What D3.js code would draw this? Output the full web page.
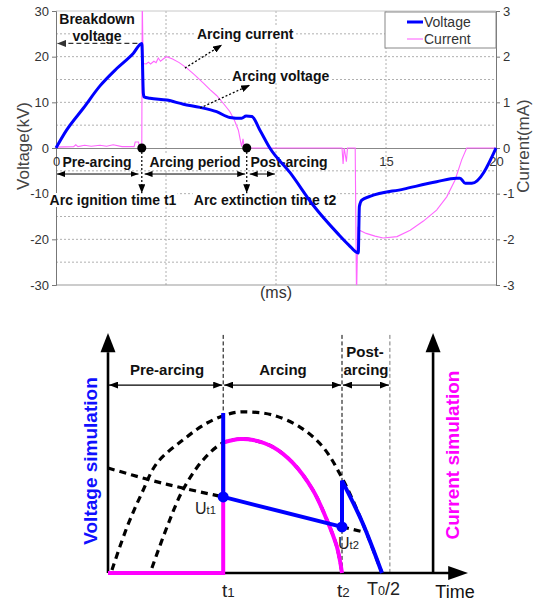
<!DOCTYPE html>
<html>
<head>
<meta charset="utf-8">
<script src="https://cdn.jsdelivr.net/npm/d3@7"></script>
<style>
body{margin:0;background:#fff;}
svg{display:block;font-family:"Liberation Sans",Arial,sans-serif;}
</style>
</head>
<body>
<svg id="fig" width="539" height="606"></svg>
<script>
// ---------- top panel : measured waveform (ms, kV, mA) ----------
const vTime = [0,0.48,1.24,2.0,2.76,3.51,3.9,3.97,4.0,4.27,5.03,5.79,6.55,7.3,7.9,8.44,8.64,8.9,9.27,9.72,10.64,11.7,12.8,13.3,13.74,13.79,13.9,14.27,15.8,17.3,18.2,18.36,18.6,18.9,20];
const vKV   = [0,3.9,8.7,13.6,17.4,20.7,22.9,12,11.2,10.9,10.5,9.6,8.9,7.95,6.7,6.5,7.0,6.9,3.9,0,-5.4,-12.6,-18.7,-21.2,-23,-12.8,-11.4,-10.6,-9.0,-7.4,-6.6,-6.6,-7.7,-7.7,0];

const iTime = [0,0.8,0.9,1.0,1.3,1.6,2.0,2.3,2.6,3.0,3.55,3.6,3.75,3.8,3.9,3.92,3.96,4.1,4.2,4.3,4.45,4.55,4.65,4.75,4.9,5.03,5.3,5.6,5.95,6.3,6.7,7.0,7.3,7.6,7.9,8.1,8.29,8.4,8.44,8.5,8.55,8.7,13.0,13.05,13.1,13.2,13.25,13.6,13.66,13.72,13.8,14.1,14.5,14.87,15.5,16.1,16.7,17.3,17.76,18.14,18.44,18.67,20];
const iMA   = [0.02,0.03,0.07,0.03,0.06,0.04,0.06,0.04,0.07,0.03,0.03,0.13,0.13,0.03,0.03,3.3,1.85,1.84,1.88,1.84,1.9,1.87,1.97,1.9,1.96,2.0,1.95,1.87,1.75,1.6,1.42,1.28,1.15,0.98,0.8,0.62,0.39,0.12,0.03,0.2,0.03,0,0,-0.35,0,-0.3,0,0,-3.3,-1.75,-1.8,-1.87,-1.93,-1.97,-1.94,-1.8,-1.6,-1.36,-1.07,-0.7,-0.26,0,0];

const kvTicks = [-30,-20,-10,0,10,20,30];
const maTicks = [-3,-2,-1,0,1,2,3];
const msTicks = [0,15,20];   // 5 and 10 sit under the annotation boxes
const arcStart = 3.9, arcEnd = 8.67;

// ---------- bottom panel : simulation sketch (arbitrary units) ----------
const bigArchU   = [1.1,5.3,9.4,13.6,20.8,27.5,34.7,39.4,45.8,53.3,59.7,65.3,70.6,76.1];
const bigArchV   = [1.25,19.2,33.3,45.8,55.4,62.5,66.7,67.1,65.8,60.8,52.5,38.75,21.25,0];
const innerArchU = [12.2,16.4,20.8,26.4,31.9,36.7,40.3,45.8,51.4,56.9,60.8,63.6,65];
const innerArchV = [2.1,19.2,34.6,47.1,54.2,55.8,55.4,52.5,45.8,34.6,22.1,10.8,0];
const arcLineU   = [0,11.7,20.8,32];
const arcLineV   = [43.75,38.75,35.4,31.7];
const tailLineU  = [65,72.2];
const tailLineV  = [19.2,16.7];
const simCurU    = [0,32,32,36.7,40.3,45.8,51.4,56.9,60.8,63.6,65];
const simCurV    = [0,0,54.4,55.8,55.4,52.5,45.8,34.6,22.1,10.8,0];
const simVoltU   = [32,32,65,65];
const simVoltV   = [66.7,31.7,19.2,38.5];
const simVoltTailU = [65,70.6,76.1];
const simVoltTailV = [38.5,21.25,0];
const t1 = 32, t2 = 65, tHalf = 78.3, rightAxisU = 90.3;

const zip = (a,b) => a.map((d,i)=>[d,b[i]]);
const svg = d3.select("#fig");

// arrowhead markers
const defs = svg.append("defs");
const mk = (id, w, h, fill) => defs.append("marker").attr("id",id)
  .attr("viewBox",`0 0 ${w} ${h}`).attr("refX",w).attr("refY",h/2)
  .attr("markerWidth",w).attr("markerHeight",h).attr("markerUnits","userSpaceOnUse")
  .attr("orient","auto-start-reverse")
  .append("path").attr("d",`M0,0L${w},${h/2}L0,${h}Z`).attr("fill",fill);
mk("ah",9,7,"#000"); mk("ahs",8,6,"#000"); mk("ahg",9,7,"#333");

const whiteText = (g, x, y, txt, opt={}) => {
  const t = g.append("text").attr("x",x).attr("y",y).text(txt)
    .attr("font-size",opt.size||14).attr("font-weight",opt.weight||"bold")
    .attr("text-anchor",opt.anchor||"middle").attr("fill",opt.fill||"#111");
  const b = t.node().getBBox();
  g.insert("rect", () => t.node()).attr("x",b.x-1).attr("y",b.y+1)
    .attr("width",b.width+2).attr("height",b.height-2).attr("fill","#fff");
  return t;
};

// ================= TOP PANEL =================
const x = d3.scaleLinear().domain([0,20]).range([56,496]);
const yV = d3.scaleLinear().domain([-30,30]).range([285,11]);
const yI = d3.scaleLinear().domain([-3,3]).range([285,11]);
const topG = svg.append("g");

// grid
const grid = topG.append("g").attr("stroke","#b0b0b0").attr("stroke-dasharray","2,2").attr("stroke-width",1);
d3.range(-25,30,5).filter(d=>d!==0).forEach(k=>{
  grid.append("line").attr("x1",x(0)).attr("x2",x(20)).attr("y1",yV(k)).attr("y2",yV(k));
});
[5,10,15].forEach(t=>{
  grid.append("line").attr("x1",x(t)).attr("x2",x(t)).attr("y1",yV(30)).attr("y2",yV(-30));
});
topG.append("line").attr("x1",x(0)).attr("x2",x(20)).attr("y1",yV(30)).attr("y2",yV(30)).attr("stroke","#c8c8c8");
topG.append("line").attr("x1",x(0)).attr("x2",x(20)).attr("y1",yV(-30)).attr("y2",yV(-30)).attr("stroke","#999");

// axes
const axL = topG.append("g").attr("transform",`translate(${x(0)},0)`)
  .call(d3.axisLeft(yV).tickValues(kvTicks).tickSize(4).tickPadding(3).tickFormat(d3.format("d")));
const axR = topG.append("g").attr("transform",`translate(${x(20)},0)`)
  .call(d3.axisRight(yI).tickValues(maTicks).tickSize(4).tickPadding(3).tickFormat(d3.format("d")));
const axB = topG.append("g").attr("transform",`translate(0,${yV(0)})`)
  .call(d3.axisBottom(x).tickValues(msTicks).tickSize(0).tickPadding(9).tickFormat(d3.format("d")));
[axL,axR,axB].forEach(a=>{
  a.selectAll("path,line").attr("stroke","#777");
  a.selectAll("text").attr("font-size",13).attr("fill","#333").attr("font-family","Liberation Sans, Arial, sans-serif");
});
axB.select(".domain").attr("stroke","#888");
// d3's minus sign -> plain hyphen like the original
topG.selectAll(".tick text").text(function(){ return this.textContent.replace("\u2212","-"); });

topG.append("text").attr("transform","translate(23,146) rotate(-90)").attr("text-anchor","middle")
  .attr("dominant-baseline","central").attr("font-size",17).attr("fill","#444").text("Voltage(kV)");
topG.append("text").attr("transform","translate(523,146) rotate(-90)").attr("text-anchor","middle")
  .attr("dominant-baseline","central").attr("font-size",17).attr("fill","#444").text("Current(mA)");
topG.append("text").attr("x",276).attr("y",298).attr("text-anchor","middle").attr("font-size",16).attr("fill","#333").text("(ms)");

// annotation labels (white boxes)
const ann = topG.append("g");
whiteText(ann,97,24,"Breakdown");
whiteText(ann,97,41,"voltage");
whiteText(ann,197,39,"Arcing current",{anchor:"start"});
whiteText(ann,232,81,"Arcing voltage",{anchor:"start"});
whiteText(ann,97,167,"Pre-arcing");
whiteText(ann,195,167,"Arcing period");
whiteText(ann,289,167,"Post-arcing");
whiteText(ann,113,205,"Arc ignition time t1");
whiteText(ann,265,205,"Arc extinction time t2");

// series
topG.append("defs").append("clipPath").attr("id","plotClip").append("rect")
  .attr("x",x(0)).attr("y",yV(30)).attr("width",x(20)-x(0)).attr("height",yV(-30)-yV(30));
topG.append("path").datum(zip(iTime,iMA)).attr("clip-path","url(#plotClip)")
  .attr("fill","none").attr("stroke","#ff66ff").attr("stroke-width",1.1)
  .attr("d",d3.line().x(d=>x(d[0])).y(d=>yI(d[1])));
topG.append("path").datum(zip(vTime,vKV))
  .attr("fill","none").attr("stroke","#0000ff").attr("stroke-width",3).attr("stroke-linejoin","round")
  .attr("d",d3.line().x(d=>x(d[0])).y(d=>yV(d[1])).curve(d3.curveMonotoneX));

// annotation arrows
const arr = topG.append("g");
arr.append("line").attr("x1",x(3.7)).attr("y1",yV(22.9)).attr("x2",x(0.05)).attr("y2",yV(22.9))
  .attr("stroke","#333").attr("stroke-dasharray","5,3").attr("stroke-width",1.2).attr("marker-end","url(#ahg)");
arr.append("line").attr("x1",x(5.86)).attr("y1",yV(17.5)).attr("x2",x(7.55)).attr("y2",yV(22.6))
  .attr("stroke","#000").attr("stroke-dasharray","2,2").attr("stroke-width",1.3).attr("marker-end","url(#ah)");
arr.append("line").attr("x1",x(6.55)).attr("y1",yV(8.76)).attr("x2",x(8.82)).attr("y2",yV(13.8))
  .attr("stroke","#000").attr("stroke-dasharray","2,2").attr("stroke-width",1.3).attr("marker-end","url(#ah)");

const rowY = yV(-5.7);
[[0,3.75],[3.98,8.6],[8.76,9.95]].forEach(s=>{
  arr.append("line").attr("x1",x(s[0])+1).attr("x2",x(s[1])).attr("y1",rowY).attr("y2",rowY)
    .attr("stroke","#000").attr("stroke-width",1)
    .attr("marker-start","url(#ahs)").attr("marker-end","url(#ahs)");
});
[arcStart,arcEnd].forEach(t=>{
  arr.append("line").attr("x1",x(t)).attr("x2",x(t)).attr("y1",yV(0)).attr("y2",yV(-9.9))
    .attr("stroke","#000").attr("stroke-dasharray","2,2").attr("stroke-width",1.2).attr("marker-end","url(#ah)");
  arr.append("circle").attr("cx",x(t)).attr("cy",yV(0)).attr("r",4.5).attr("fill","#000");
});

// legend
const lg = topG.append("g");
lg.append("rect").attr("x",385).attr("y",12).attr("width",111).attr("height",36).attr("fill","#fff").attr("stroke","#888");
lg.append("line").attr("x1",407).attr("x2",423).attr("y1",22).attr("y2",22).attr("stroke","#0000ff").attr("stroke-width",3);
lg.append("line").attr("x1",407).attr("x2",423).attr("y1",39).attr("y2",39).attr("stroke","#ff66ff").attr("stroke-width",1.1);
lg.append("text").attr("x",424).attr("y",27).attr("font-size",14).attr("fill","#333").text("Voltage");
lg.append("text").attr("x",424).attr("y",44).attr("font-size",14).attr("fill","#333").text("Current");

// ================= BOTTOM PANEL =================
const sx = d3.scaleLinear().domain([0,100]).range([108,468]);
const sy = d3.scaleLinear().domain([0,100]).range([573,333]);
const bot = svg.append("g");
const lin = d3.line().x(d=>sx(d[0])).y(d=>sy(d[1]));
const crv = d3.line().x(d=>sx(d[0])).y(d=>sy(d[1])).curve(d3.curveCatmullRom);

// period dashed markers
[[t1,"#000"],[t2,"#000"],[tHalf,"#777"]].forEach(m=>{
  bot.append("line").attr("x1",sx(m[0])).attr("x2",sx(m[0])).attr("y1",sy(99.2)).attr("y2",sy(0))
    .attr("stroke",m[1]).attr("stroke-width",1).attr("stroke-dasharray","4,2.5");
});

// axes with arrowheads
const ax = bot.append("g");
[0,rightAxisU].forEach(u=>{
  ax.append("line").attr("x1",sx(u)).attr("x2",sx(u)).attr("y1",sy(0)).attr("y2",sy(92)).attr("stroke","#000").attr("stroke-width",2.6);
  ax.append("path").attr("d",`M${sx(u)-7.5},${sy(92)}L${sx(u)},${sy(100)}L${sx(u)+7.5},${sy(92)}Z`).attr("fill","#000");
});
ax.append("line").attr("x1",sx(0)).attr("x2",sx(95)).attr("y1",sy(0)).attr("y2",sy(0)).attr("stroke","#000").attr("stroke-width",2.6);
ax.append("path").attr("d",`M${sx(94.5)},${sy(0)-7}L${sx(100)},${sy(0)}L${sx(94.5)},${sy(0)+7}Z`).attr("fill","#000");

// period arrows
const ry = sy(78.3);
[[0,t1],[t1,t2],[t2,tHalf]].forEach(s=>{
  bot.append("line").attr("x1",sx(s[0])+1).attr("x2",sx(s[1])-1).attr("y1",ry).attr("y2",ry)
    .attr("stroke","#000").attr("stroke-width",1.1)
    .attr("marker-start","url(#ah)").attr("marker-end","url(#ah)");
});
bot.append("text").attr("x",167).attr("y",375).attr("text-anchor","middle").attr("font-size",15).attr("font-weight","bold").attr("fill","#111").text("Pre-arcing");
bot.append("text").attr("x",283).attr("y",375).attr("text-anchor","middle").attr("font-size",15).attr("font-weight","bold").attr("fill","#111").text("Arcing");
bot.append("text").attr("x",365).attr("y",357).attr("text-anchor","middle").attr("font-size",15).attr("font-weight","bold").attr("fill","#111").text("Post-");
bot.append("text").attr("x",366).attr("y",375).attr("text-anchor","middle").attr("font-size",15).attr("font-weight","bold").attr("fill","#111").text("arcing");

// dashed construction curves
const dash = bot.append("g").attr("fill","none").attr("stroke","#000").attr("stroke-width",3.2).attr("stroke-dasharray","7,5");
dash.append("path").attr("d",crv(zip(bigArchU,bigArchV)));
dash.append("path").attr("d",crv(zip(innerArchU,innerArchV)));
dash.append("path").attr("d",crv(zip(arcLineU,arcLineV)));
dash.append("path").attr("d",lin(zip(tailLineU,tailLineV)));

// simulated current
bot.append("path").attr("fill","none").attr("stroke","#ff00ff").attr("stroke-width",4)
  .attr("d",lin(zip(simCurU,simCurV).slice(0,3)));
bot.append("path").attr("fill","none").attr("stroke","#ff00ff").attr("stroke-width",4)
  .attr("d",crv(zip(simCurU,simCurV).slice(2)));
// simulated voltage
bot.append("path").attr("fill","none").attr("stroke","#0000ff").attr("stroke-width",4).attr("stroke-linejoin","round")
  .attr("d",lin(zip(simVoltU,simVoltV)));
bot.append("path").attr("fill","none").attr("stroke","#0000ff").attr("stroke-width",4)
  .attr("d",crv(zip(simVoltTailU,simVoltTailV)));
[[t1,simVoltV[1]],[t2,simVoltV[2]]].forEach(p=>{
  bot.append("circle").attr("cx",sx(p[0])).attr("cy",sy(p[1])).attr("r",5.5).attr("fill","#0000ff");
});

// labels with subscripts
const sub = (xp, yp, main, s, rest, size, anchor) => {
  const t = bot.append("text").attr("x",xp).attr("y",yp).attr("font-size",size).attr("fill","#222").attr("text-anchor",anchor||"start");
  t.append("tspan").text(main);
  t.append("tspan").attr("font-size",size*0.7).text(s);
  if (rest) t.append("tspan").text(rest);
};
sub(195,514,"U","t1","",16);
sub(338,549,"U","t2","",16);
sub(222,597,"t","1","",19);
sub(337,597,"t","2","",19);
sub(367,595,"T","0","/2",18);
bot.append("text").attr("x",455).attr("y",598).attr("text-anchor","middle").attr("font-size",18).attr("fill","#111").text("Time");

bot.append("text").attr("transform","translate(90,461) rotate(-90)").attr("text-anchor","middle").attr("dominant-baseline","central")
  .attr("font-size",19).attr("font-weight","bold").attr("fill","#1010ff").text("Voltage simulation");
bot.append("text").attr("transform","translate(452,455) rotate(-90)").attr("text-anchor","middle").attr("dominant-baseline","central")
  .attr("font-size",19).attr("font-weight","bold").attr("fill","#ff00ff").text("Current simulation");
</script>
</body>
</html>
